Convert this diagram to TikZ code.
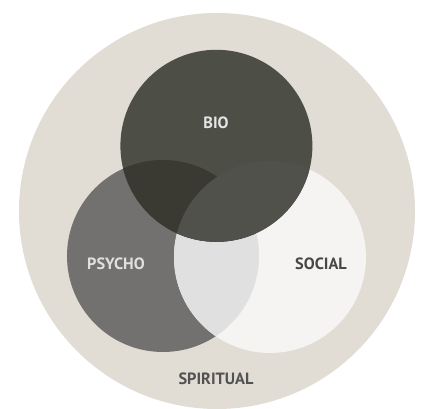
\documentclass[tikz,border=0pt]{standalone}
\usepackage{fontspec}
\setsansfont{PT Sans}
\usepackage{xcolor}
\usetikzlibrary{positioning}
\definecolor{spiritc}{HTML}{E1DCD4}
\definecolor{bioc}{HTML}{4D4E45}
\definecolor{psychoc}{HTML}{727170}
\definecolor{socialc}{HTML}{F5F4F2}
\definecolor{psocc}{HTML}{E1E0E1}
\definecolor{bpsyc}{HTML}{3A3A32}
\definecolor{bsocc}{HTML}{50514A}
\tikzstyle{ring}=[circle, draw=none, inner sep=0pt, minimum size=4.8cm]
\tikzstyle{lbl}=[font=\sffamily\bfseries\fontsize{11.6}{13}\selectfont, inner sep=0pt]

\begin{document}
\begin{tikzpicture}
\useasboundingbox (0,0) rectangle (10.55,10.225);
\node[ring, fill=spiritc, minimum size=9.9cm] (spiritual) at (5.425,4.95) {};
\node[ring, fill=psychoc] (psycho) at (4.075,3.825) {};
\node[ring, fill=socialc] (social) at (6.75,3.8) {};
% overlaps
\begin{scope}
\clip (psycho.center) circle (2.4);
\fill[psocc] (social.center) circle (2.4);
\end{scope}
\node[ring, fill=bioc] (bio) at (5.41,6.58) {};
\begin{scope}
\clip (bio.center) circle (2.4);
\fill[bpsyc] (psycho.center) circle (2.4);
\fill[bsocc] (social.center) circle (2.4);
\end{scope}
% labels
\node[lbl, text=white!90!black] (tbio) at (5.4,7.15) {BIO};
\node[lbl, text=white!88!black] (tpsycho) at (2.9,3.625) {PSYCHO};
\node[lbl, text=black!72] (tsocial) at (8.025,3.625) {SOCIAL};
\node[lbl, text=black!68] (tspiritual) at (5.4,0.75) {SPIRITUAL};
\end{tikzpicture}
\end{document}
